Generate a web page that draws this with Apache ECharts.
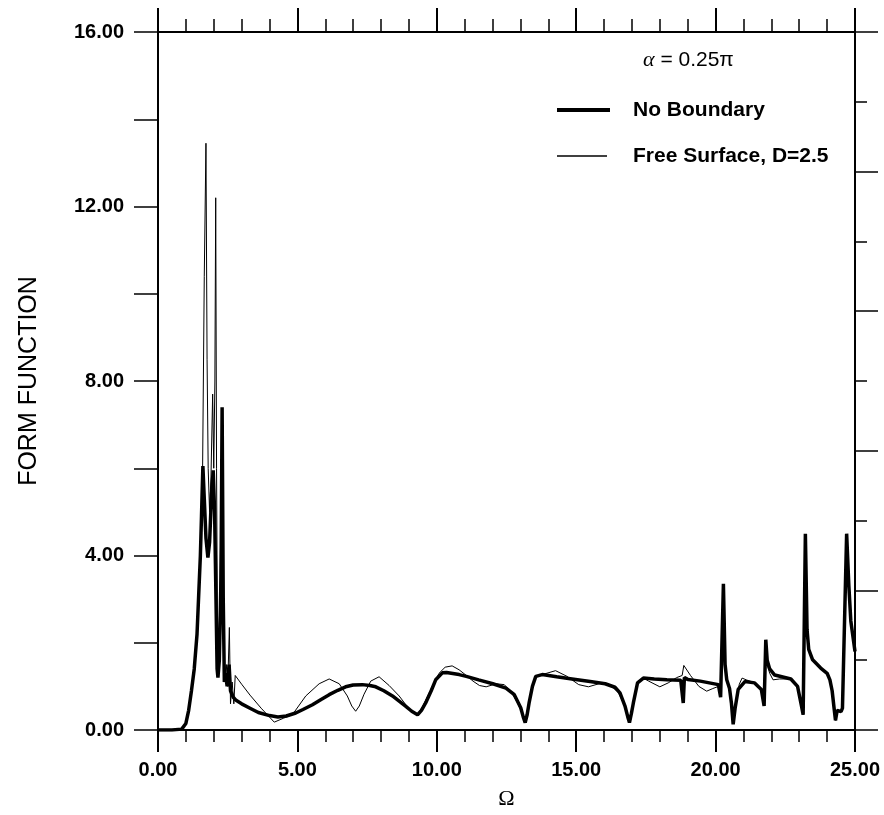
<!DOCTYPE html>
<html>
<head>
<meta charset="utf-8">
<script src="https://cdn.jsdelivr.net/npm/echarts@6/dist/echarts.min.js"></script>
<style>html,body{margin:0;padding:0;background:#fff;}#c{width:884px;height:815px;}</style>
</head>
<body>
<div id="c"></div>
<script>
// ---- data (Ω, form function) ----
const seriesNames = ['No Boundary', 'Free Surface, D=2.5'];
const xTickLabels = ['0.00', '5.00', '10.00', '15.00', '20.00', '25.00'];
const yTickLabels = ['0.00', '4.00', '8.00', '12.00', '16.00'];

const noBoundary = [
  [0,0],[0.5,0],[0.85,0.02],[1.0,0.15],[1.1,0.45],[1.2,0.9],[1.3,1.4],[1.4,2.2],[1.46,3.1],[1.52,4.0],
  [1.56,4.9],[1.61,6.05],[1.66,5.3],[1.72,4.4],[1.79,3.95],[1.85,4.3],[1.92,5.4],[1.98,5.95],[2.03,5.0],
  [2.08,3.0],[2.12,1.4],[2.15,1.2],[2.2,1.6],[2.26,3.5],[2.3,7.4],[2.34,3.0],[2.38,1.1],[2.42,1.3],
  [2.48,1.0],[2.55,1.5],[2.6,0.9],[2.7,0.75],[2.8,0.68],[3.0,0.6],[3.3,0.5],[3.6,0.4],[4.0,0.33],
  [4.3,0.3],[4.6,0.32],[4.94,0.39],[5.2,0.47],[5.54,0.58],[5.85,0.7],[6.14,0.81],[6.45,0.91],[6.73,0.99],
  [7.0,1.03],[7.33,1.04],[7.6,1.02],[7.81,0.99],[8.1,0.9],[8.41,0.78],[8.65,0.66],[8.89,0.54],[9.1,0.43],
  [9.31,0.35],[9.45,0.45],[9.6,0.62],[9.8,0.9],[9.96,1.15],[10.2,1.31],[10.35,1.32],[10.8,1.27],
  [11.06,1.23],[11.5,1.15],[12.01,1.06],[12.48,0.96],[12.78,0.81],[13.01,0.51],[13.1,0.3],[13.17,0.17],
  [13.24,0.35],[13.31,0.62],[13.43,1.0],[13.55,1.23],[13.78,1.27],[14.3,1.22],[14.85,1.17],[15.5,1.11],
  [16.04,1.06],[16.39,0.98],[16.57,0.85],[16.75,0.55],[16.85,0.3],[16.91,0.17],[16.98,0.38],[17.05,0.62],
  [17.2,1.08],[17.41,1.19],[17.8,1.17],[18.25,1.15],[18.75,1.14],[18.8,1.12],[18.84,0.62],[18.88,1.2],
  [19.0,1.16],[19.45,1.12],[20.1,1.04],[20.18,0.75],[20.28,3.35],[20.34,1.5],[20.4,1.15],[20.5,0.95],
  [20.57,0.6],[20.63,0.13],[20.7,0.5],[20.81,0.93],[21.05,1.11],[21.4,1.08],[21.64,0.93],[21.74,0.55],
  [21.8,2.07],[21.85,1.6],[21.94,1.4],[22.12,1.26],[22.7,1.17],[22.94,1.0],[23.08,0.55],[23.14,0.35],
  [23.22,4.5],[23.28,2.3],[23.34,1.85],[23.48,1.61],[23.77,1.42],[24.0,1.3],[24.1,1.15],[24.18,0.9],
  [24.25,0.5],[24.3,0.22],[24.36,0.45],[24.5,0.42],[24.55,0.5],[24.7,4.5],[24.78,3.3],[24.85,2.5],[25,1.8]
];

const freeSurface = [
  [0,0],[0.5,0],[0.85,0.02],[1.0,0.15],[1.1,0.45],[1.2,0.9],[1.3,1.4],[1.4,2.2],[1.46,3.1],[1.52,4.0],
  [1.56,4.9],[1.6,6.0],[1.66,10.4],[1.72,13.45],[1.76,8.5],[1.8,6.0],[1.85,5.0],[1.9,5.8],[1.96,7.7],
  [2.0,6.0],[2.04,8.0],[2.07,12.2],[2.1,6.0],[2.14,1.4],[2.2,2.5],[2.25,4.5],[2.3,7.0],[2.33,2.5],
  [2.38,1.2],[2.45,1.5],[2.5,1.0],[2.56,2.35],[2.6,0.6],[2.66,1.1],[2.72,0.6],[2.77,1.25],[3.0,1.05],
  [3.3,0.8],[3.7,0.5],[4.17,0.18],[4.5,0.27],[4.82,0.35],[5.3,0.78],[5.78,1.06],[6.14,1.17],[6.5,1.06],
  [6.79,0.78],[6.95,0.55],[7.09,0.43],[7.22,0.55],[7.39,0.82],[7.63,1.12],[7.93,1.22],[8.29,1.02],
  [8.65,0.78],[8.9,0.57],[9.1,0.44],[9.31,0.35],[9.5,0.55],[9.8,0.95],[10.08,1.3],[10.3,1.44],
  [10.55,1.47],[10.8,1.38],[11.06,1.25],[11.3,1.12],[11.53,1.02],[11.77,0.99],[12.13,1.06],[12.42,1.04],
  [12.66,0.88],[12.9,0.62],[13.05,0.4],[13.17,0.17],[13.3,0.62],[13.43,1.0],[13.55,1.23],[13.78,1.27],
  [14.26,1.36],[14.67,1.23],[15.09,1.04],[15.44,0.99],[15.92,1.08],[16.27,1.0],[16.5,0.87],[16.75,0.55],
  [16.85,0.3],[16.91,0.17],[16.98,0.38],[17.05,0.62],[17.2,1.08],[17.41,1.19],[17.6,1.12],[18.0,0.99],
  [18.3,1.08],[18.6,1.2],[18.8,1.25],[18.86,1.48],[19.1,1.25],[19.4,1.0],[19.68,0.89],[19.9,0.95],
  [20.1,1.0],[20.18,0.78],[20.28,3.3],[20.34,1.5],[20.4,1.15],[20.5,0.95],[20.57,0.6],[20.63,0.15],
  [20.7,0.55],[20.85,1.05],[20.95,1.19],[21.1,1.15],[21.4,1.08],[21.64,0.93],[21.74,0.55],[21.8,2.0],
  [21.85,1.5],[21.94,1.3],[22.06,1.15],[22.3,1.17],[22.7,1.17],[22.94,1.0],[23.08,0.55],[23.14,0.35],
  [23.22,4.45],[23.28,2.3],[23.34,1.85],[23.48,1.61],[23.77,1.42],[24.0,1.3],[24.1,1.15],[24.18,0.9],
  [24.25,0.5],[24.3,0.22],[24.36,0.45],[24.5,0.42],[24.55,0.5],[24.7,4.45],[24.78,3.3],[24.85,2.5],[25,1.8]
];

// ---- chart ----
const chart = echarts.init(document.getElementById('c'), null, {renderer: 'canvas'});
const black = '#000';
const labelFont = {color: black, fontFamily: 'Liberation Sans, Arial, sans-serif', fontWeight: 'bold', fontSize: 20};

chart.setOption({
  backgroundColor: '#fff',
  animation: false,
  title: {
    text: '{a|α} = 0.25π',
    left: 638, top: 44,
    textStyle: {
      color: black, fontSize: 21, fontWeight: 'normal', fontFamily: 'Liberation Sans, Arial, sans-serif',
      rich: {a: {fontStyle: 'italic', fontFamily: 'Liberation Serif, serif', fontSize: 22, color: black}}
    }
  },
  legend: [
    {
      data: [seriesNames[0]], left: 557, top: 98, padding: 0,
      icon: 'rect', itemWidth: 53, itemHeight: 4,
      selectedMode: false,
      textStyle: Object.assign({}, labelFont, {fontSize: 21, lineHeight: 24, padding: [0, 0, 0, 18]})
    },
    {
      data: [seriesNames[1]], left: 557, top: 144, padding: 0,
      icon: 'rect', itemWidth: 50, itemHeight: 1.5,
      selectedMode: false,
      textStyle: Object.assign({}, labelFont, {fontSize: 21, lineHeight: 24, padding: [0, 0, 0, 21]})
    }
  ],
  grid: {left: 158, right: 29, top: 32, bottom: 81, containLabel: false},
  xAxis: [
    {
      type: 'value', position: 'bottom', min: 0, max: 25, interval: 5,
      name: 'Ω', nameLocation: 'middle', nameGap: 58,
      nameTextStyle: {color: black, fontSize: 22, fontFamily: 'Liberation Serif, serif'},
      axisLine: {show: true, onZero: false, lineStyle: {color: black, width: 2}},
      axisTick: {show: true, inside: false, length: 22, lineStyle: {color: black, width: 2}},
      minorTick: {show: true, splitNumber: 5, length: 12, lineStyle: {color: black, width: 1.5}},
      axisLabel: Object.assign({}, labelFont, {margin: 30, formatter: v => xTickLabels[Math.round(v / 5)]}),
      splitLine: {show: false}
    },
    {
      type: 'value', position: 'top', min: 0, max: 25, interval: 5,
      axisLine: {show: true, onZero: false, lineStyle: {color: black, width: 2}},
      axisTick: {show: true, inside: false, length: 24, lineStyle: {color: black, width: 2}},
      minorTick: {show: true, splitNumber: 5, length: 13, lineStyle: {color: black, width: 1.5}},
      axisLabel: {show: false},
      splitLine: {show: false}
    }
  ],
  yAxis: [
    {
      type: 'value', position: 'left', min: 0, max: 16, interval: 4,
      name: 'FORM FUNCTION', nameLocation: 'middle', nameGap: 116, nameRotate: 90,
      nameTextStyle: {color: black, fontSize: 25, fontFamily: 'Liberation Sans, Arial, sans-serif'},
      axisLine: {show: true, onZero: false, lineStyle: {color: black, width: 2}},
      axisTick: {show: true, inside: false, length: 24, lineStyle: {color: black, width: 1.5}},
      minorTick: {show: true, splitNumber: 2, length: 24, lineStyle: {color: black, width: 1.5}},
      axisLabel: Object.assign({}, labelFont, {margin: 34, formatter: v => yTickLabels[Math.round(v / 4)]}),
      splitLine: {show: false}
    },
    {
      type: 'value', position: 'right', min: 0, max: 16, interval: 3.2,
      axisLine: {show: true, onZero: false, lineStyle: {color: black, width: 2}},
      axisTick: {show: true, inside: false, length: 23, lineStyle: {color: black, width: 1.5}},
      minorTick: {show: true, splitNumber: 2, length: 12, lineStyle: {color: black, width: 1.5}},
      axisLabel: {show: false},
      splitLine: {show: false}
    }
  ],
  series: [
    {
      name: seriesNames[1], type: 'line', data: freeSurface, xAxisIndex: 0, yAxisIndex: 0,
      showSymbol: false, symbol: 'none', smooth: false,
      lineStyle: {color: black, width: 1}, itemStyle: {color: black}, z: 2
    },
    {
      name: seriesNames[0], type: 'line', data: noBoundary, xAxisIndex: 0, yAxisIndex: 0,
      showSymbol: false, symbol: 'none', smooth: false,
      lineStyle: {color: black, width: 3.5}, itemStyle: {color: black}, z: 3
    }
  ]
});
</script>
</body>
</html>
